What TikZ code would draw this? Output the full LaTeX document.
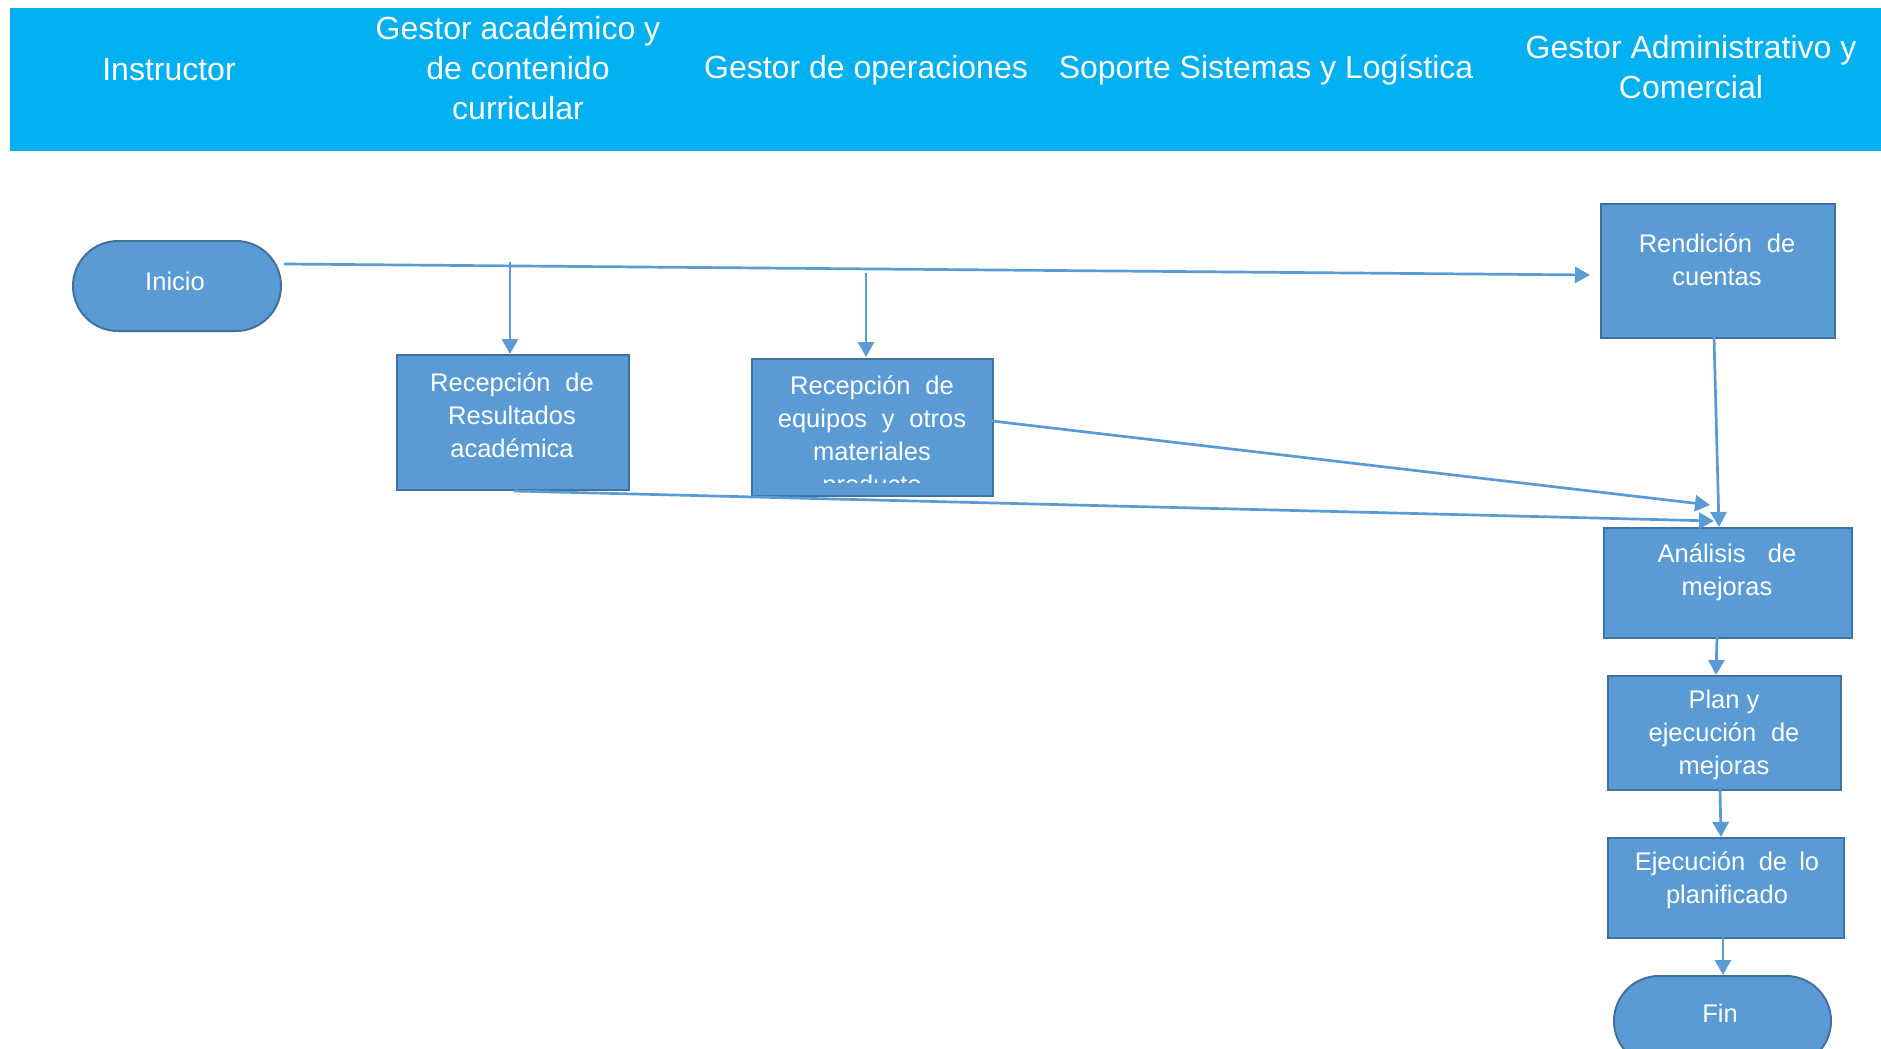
\documentclass[tikz,border=0pt]{standalone}
\usepackage{fontspec}
\setmainfont{Liberation Sans}
\usetikzlibrary{arrows.meta}
\definecolor{hdr}{HTML}{00B0F0}
\definecolor{boxfill}{HTML}{5B9BD5}
\definecolor{boxline}{HTML}{41719C}
\definecolor{arr}{HTML}{5B9BD5}
\begin{document}
\begin{tikzpicture}[x=0.5pt,y=-0.5pt,
  hdrtext/.style={text=white, font=\fontsize{16}{20}\selectfont, align=center, inner sep=0pt},
  box/.style={draw=boxline, line width=1pt, fill=boxfill, inner sep=0pt, anchor=north west},
  term/.style={box, rounded corners=22.5pt},
  boxtext/.style={text=white, font=\fontsize{12.75}{16.5}\selectfont, align=center, inner sep=0pt},
  conn/.style={draw=arr, line width=1.35pt, -{Triangle[length=7.5pt,width=8pt]}}
]
\useasboundingbox (0,0) rectangle (1881,1049);
\clip (0,0) rectangle (1881,1049);
\fill[white] (0,0) rectangle (1881,1049);
% header band
\fill[hdr] (10,8) rectangle (1881,151);
\node[hdrtext] (h1) at (169,70) {Instructor};
\node[hdrtext] (h2) at (518,68) {Gestor académico y\\de contenido\\curricular};
\node[hdrtext] (h3) at (866,70) {Gestor de operaciones};
\node[hdrtext] (h4) at (1266,70) {Soporte Sistemas y Logística};
\node[hdrtext] (h5) at (1691,67) {Gestor Administrativo y\\Comercial};

% boxes
\node[term, minimum width=104pt, minimum height=45pt] (inicio) at (72,240) {};
\node[boxtext] (tinicio) at (175,281) {Inicio};

\node[box, minimum width=117pt, minimum height=67pt] (rend) at (1600,203) {};
\node[boxtext] (trend) at (1717,260) {Rendición\hspace{0.3em} de\\cuentas};

\node[box, minimum width=116pt, minimum height=67.5pt] (res) at (396,354) {};
\node[boxtext] (tres) at (512,415) {Recepción\hspace{0.3em} de\\Resultados\\académica};

\node[box, minimum width=120.5pt, minimum height=68.5pt] (equ) at (751,358) {};
\begin{scope}
\clip (752,359) rectangle (991,482);
\node[boxtext] (tequ) at (872,437) {Recepción\hspace{0.3em} de\\equipos\hspace{0.3em} y\hspace{0.3em} otros\\materiales\\producto};
\end{scope}

\node[box, minimum width=124pt, minimum height=55pt] (anal) at (1603,527) {};
\node[boxtext] (tanal) at (1727,572) {Análisis\hspace{0.6em} de\\mejoras};

\node[box, minimum width=116.5pt, minimum height=57pt] (plan) at (1607,675) {};
\node[boxtext] (tplan) at (1724,735) {Plan y\\ejecución\hspace{0.3em} de\\mejoras};

\node[box, minimum width=118pt, minimum height=50pt] (ejec) at (1607,837) {};
\node[boxtext] (tejec) at (1727,880) {Ejecución\hspace{0.25em} de\hspace{0.2em} lo\\planificado};

\node[term, minimum width=108.5pt, minimum height=45pt] (fin) at (1613,975) {};
\node[boxtext] (tfin) at (1720,1013) {Fin};

% connectors
\coordinate (s1) at (284,264);
\coordinate (e1) at (1590,275);
\draw[conn] (s1) -- (e1);
\coordinate (s2) at (510,262);
\draw[conn] (s2) -- (res.north -| s2);
\coordinate (s3) at (866,273);
\draw[conn] (s3) -- (866,357);
\coordinate (s4) at (992,421);
\coordinate (e4) at (1710,505);
\draw[conn] (s4) -- (e4);
\coordinate (s5) at (514,491);
\coordinate (e5) at (1714,521);
\draw[conn] (s5) -- (e5);
\draw[conn] (1714,337) -- (1719,527);
\draw[conn] (1717,637) -- (1716,675);
\draw[conn] (1720,789) -- (1721,837);
\draw[conn] (1723,937) -- (1723,975);
\end{tikzpicture}
\end{document}
